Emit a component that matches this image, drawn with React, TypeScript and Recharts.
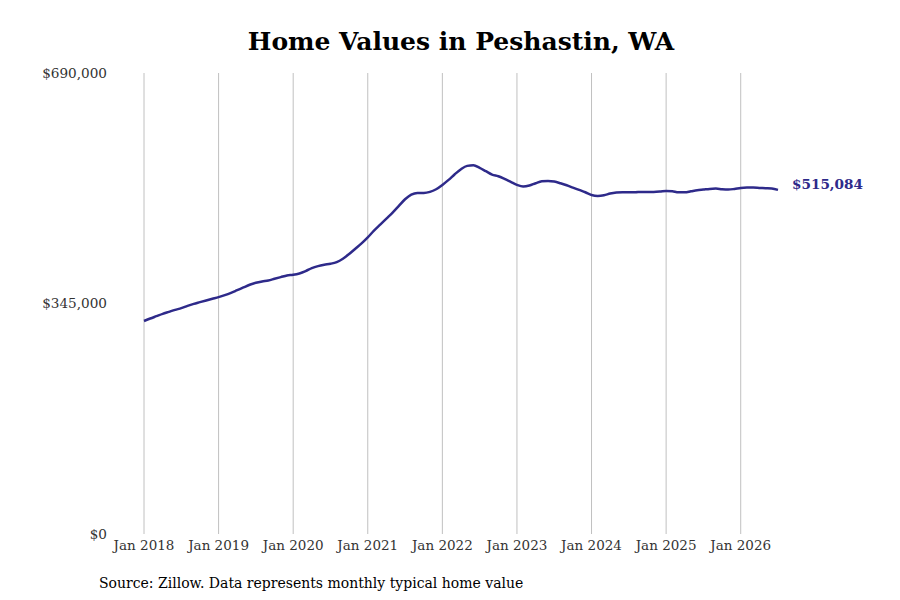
import { LineChart, Line, XAxis, YAxis, ReferenceLine } from 'recharts';

// monthly typical home value (thousands of dollars), Jan 2018 .. Jul 2026
const VALUES_K = [
  318.8, 322.5, 326, 329.5, 332.5, 335.5, 338, 341.5, 344.5, 347, 349.5, 352,
  354.5, 357.5, 361, 365, 369, 373, 376, 378, 379.5, 382, 384.5, 387,
  388, 390, 393.5, 398, 401, 403, 404.5, 407, 412, 419, 427, 435,
  444, 454, 463, 472, 481, 491, 501, 508, 510.5, 510.5, 512, 516,
  522.5, 530, 538.5, 546, 551, 552, 548, 543, 538, 535.5, 531.5, 527,
  522.5, 520, 521.5, 525, 528, 528.5, 527.5, 525, 522, 518.5, 515, 511.5,
  507.5, 506, 507, 509.5, 511, 511.5, 511.5, 511.5, 512, 512, 512, 512.5,
  513.5, 513, 511.5, 511.5, 513, 514.5, 515.5, 516.5, 517, 516, 515.5, 516.5,
  518, 518.5, 518.5, 518, 517.5, 517, 515.084,
];

const YEAR_TICKS = [0, 12, 24, 36, 48, 60, 72, 84, 96];
const YEAR_LABELS = ['Jan 2018', 'Jan 2019', 'Jan 2020', 'Jan 2021', 'Jan 2022', 'Jan 2023', 'Jan 2024', 'Jan 2025', 'Jan 2026'];
const Y_TICKS = [0, 345000, 690000];

const LINE_COLOR = '#2e2a8a';
const FONT = '"DejaVu Serif", serif';

const data = VALUES_K.map((v, i) => ({ month: i, value: Math.round(v * 1000) }));
const lastIndex = data.length - 1;

const money = (v: number) => '$' + v.toLocaleString('en-US');

function EndLabel(props: any) {
  const { x, y, index } = props;
  if (index !== lastIndex) return null;
  return (
    <text
      x={x + 14}
      y={y - 6}
      dominantBaseline="central"
      fill={LINE_COLOR}
      fontFamily={FONT}
      fontSize={13.6}
      fontWeight="bold"
    >
      {money(data[lastIndex].value)}
    </text>
  );
}

export default function App() {
  return (
    <div style={{ position: 'relative', width: 900, height: 600, margin: -8, background: '#fff', fontFamily: FONT }}>
      <div
        style={{
          position: 'absolute',
          left: 0,
          width: 922,
          top: 27,
          textAlign: 'center',
          fontSize: 25,
          fontWeight: 'bold',
          color: '#000',
        }}
      >
        Home Values in Peshastin, WA
      </div>
      <LineChart
        width={900}
        height={600}
        data={data}
        margin={{ top: 73, right: 122, bottom: 36, left: 0 }}
      >
        {YEAR_TICKS.map((t) => (
          <ReferenceLine key={t} x={t} stroke="#c0c0c0" strokeWidth={1} />
        ))}
        <XAxis
          dataKey="month"
          type="number"
          domain={[0, lastIndex]}
          ticks={YEAR_TICKS}
          tickFormatter={(v: number) => YEAR_LABELS[YEAR_TICKS.indexOf(v)]}
          axisLine={false}
          tickLine={false}
          tickSize={0}
          tickMargin={6}
          height={30}
          tick={{ fill: '#333', fontSize: 13.5, fontFamily: FONT }}
        />
        <YAxis
          domain={[0, 690000]}
          ticks={Y_TICKS}
          tickFormatter={money}
          axisLine={false}
          tickLine={false}
          tickSize={0}
          tickMargin={37}
          width={144}
          tick={{ fill: '#333', fontSize: 13.6, fontFamily: FONT }}
        />
        <Line
          type="monotone"
          dataKey="value"
          stroke={LINE_COLOR}
          strokeWidth={2.5}
          dot={false}
          isAnimationActive={false}
          label={<EndLabel />}
        />
      </LineChart>
      <div style={{ position: 'absolute', left: 99, top: 575, fontSize: 14, color: '#000' }}>
        Source: Zillow. Data represents monthly typical home value
      </div>
    </div>
  );
}
